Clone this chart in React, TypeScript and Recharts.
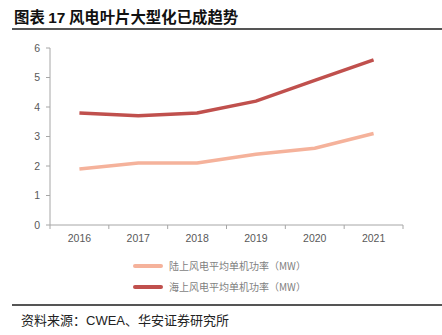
import React from 'react';
import { LineChart, Line, XAxis, YAxis } from 'recharts';

const YEARS = ['2016', '2017', '2018', '2019', '2020', '2021'];
const ONSHORE = [1.9, 2.1, 2.1, 2.4, 2.6, 3.1];
const OFFSHORE = [3.8, 3.7, 3.8, 4.2, 4.9, 5.6];
const Y_TICKS = [0, 1, 2, 3, 4, 5, 6];

const ONSHORE_NAME = '陆上风电平均单机功率（MW）';
const OFFSHORE_NAME = '海上风电平均单机功率（MW）';

const PINK = '#F5B29B';
const RED = '#C0504D';
const AXIS = '#A6A6A6';
const CJK = '"Noto Sans CJK SC", "Liberation Sans", sans-serif';

const data = YEARS.map((year, i) => ({
    x: i + 0.5,
    year,
    onshore: ONSHORE[i],
    offshore: OFFSHORE[i],
}));

// plot area: x 50..403
const HALF_BAND = (403 - 50) / YEARS.length / 2;

const YearTick = (props: any) => {
    const { x, y, payload } = props;
    const label = YEARS[payload.value];
    if (!label) return null;
    return (
        <text x={x + HALF_BAND} y={y + 11} textAnchor="middle" fill="#595959" fontSize={10.5} fontFamily='"Liberation Sans", Arial, sans-serif'>
            {label}
        </text>
    );
};

const LegendRow = ({ color, label, top }: { color: string; label: string; top: number }) => (
    <div style={{ position: 'absolute', left: 133, top, display: 'flex', alignItems: 'center' }}>
        <div style={{ width: 30, height: 4, background: color, borderRadius: 2 }} />
        <span style={{ marginLeft: 6, fontSize: 10, color: '#7F7F7F', fontFamily: CJK, lineHeight: '12px' }}>{label}</span>
    </div>
);

const App: React.FC = () => {
    return (
        <div style={{ position: 'absolute', left: 0, top: 0, width: 442, height: 335, background: '#fff', overflow: 'hidden' }}>
            <div style={{ position: 'absolute', left: 14, top: 6, fontSize: 15.4, fontWeight: 700, color: '#111', fontFamily: CJK, lineHeight: '20px', whiteSpace: 'nowrap' }}>
                图表 <span style={{ fontFamily: '"Liberation Sans", Arial, sans-serif' }}>17</span> 风电叶片大型化已成趋势
            </div>
            <div style={{ position: 'absolute', left: 12, top: 28, width: 430, height: 1.5, background: '#555' }} />

            <div style={{ position: 'absolute', left: 0, top: 0 }}>
                <LineChart width={442} height={250} data={data} margin={{ top: 48, right: 39, bottom: 0, left: 0 }}>
                    <XAxis
                        dataKey="x"
                        type="number"
                        domain={[0, 6]}
                        ticks={Y_TICKS}
                        height={25}
                        stroke={AXIS}
                        tickSize={4}
                        tick={<YearTick />}
                        interval={0}
                    />
                    <YAxis
                        width={50}
                        domain={[0, 6]}
                        ticks={Y_TICKS}
                        stroke={AXIS}
                        tickSize={4}
                        tickMargin={6}
                        tick={{ fill: '#595959', fontSize: 10.5, fontFamily: '"Liberation Sans", Arial, sans-serif' }}
                    />
                    <Line
                        dataKey="onshore"
                        name={ONSHORE_NAME}
                        stroke={PINK}
                        strokeWidth={3.5}
                        dot={false}
                        isAnimationActive={false}
                    />
                    <Line
                        dataKey="offshore"
                        name={OFFSHORE_NAME}
                        stroke={RED}
                        strokeWidth={3.5}
                        dot={false}
                        isAnimationActive={false}
                    />
                </LineChart>
            </div>

            <LegendRow color={PINK} label={ONSHORE_NAME} top={260} />
            <LegendRow color={RED} label={OFFSHORE_NAME} top={281} />

            <div style={{ position: 'absolute', left: 12, top: 304, width: 430, height: 1.5, background: '#555' }} />
            <div style={{ position: 'absolute', left: 21, top: 311, fontSize: 13, color: '#222', fontFamily: CJK, lineHeight: '18px', whiteSpace: 'nowrap' }}>
                资料来源：<span style={{ fontFamily: '"Liberation Sans", Arial, sans-serif' }}>CWEA</span>、华安证券研究所
            </div>
        </div>
    );
};

export default App;
